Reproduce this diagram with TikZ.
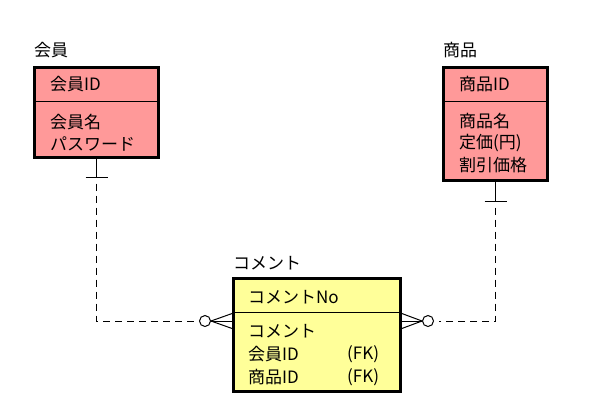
\documentclass[tikz,border=0pt]{standalone}
\usepackage{fontspec}
\setmainfont{Noto Sans CJK JP}
\usetikzlibrary{positioning, calc}

\definecolor{entpink}{RGB}{255,153,153}
\definecolor{entyellow}{RGB}{255,255,153}

\begin{document}
\begin{tikzpicture}[
    x=1pt, y=-1pt,
    entity/.style={draw, line width=3pt, outer sep=0pt, inner sep=0pt, anchor=north west},
    title/.style={anchor=west, inner sep=0pt, font=\fontsize{17}{20}\selectfont},
    attr/.style={anchor=west, inner sep=0pt, font=\fontsize{17}{20}\selectfont},
    divider/.style={line width=1pt},
    erdash/.style={dash pattern=on 7pt off 5pt, line width=1pt},
    erline/.style={line width=1pt},
    zero/.style={circle, draw, line width=1pt, fill=white, minimum size=11pt, inner sep=0pt},
]
    \useasboundingbox (0,0) rectangle (593,418);

    % entities
    \node[entity, fill=entpink,   minimum width=124pt, minimum height=90pt]  (member)  at (34.5,67.5)   {};
    \node[entity, fill=entpink,   minimum width=104pt, minimum height=113pt] (product) at (443.5,67.5)  {};
    \node[entity, fill=entyellow, minimum width=167pt, minimum height=113pt] (comment) at (233.5,278.5) {};

    \draw[divider] (member.west |- 0,101)  -- (member.east |- 0,101);
    \draw[divider] (product.west |- 0,101) -- (product.east |- 0,101);
    \draw[divider] (comment.west |- 0,312) -- (comment.east |- 0,312);

    \node[title] (memberT)  at (34,50)   {会員};
    \node[title] (productT) at (443,50)  {商品};
    \node[title] (commentT) at (233,263) {コメント};

    \node[attr] (m1) at (50,84)  {会員ID};
    \node[attr] (m2) at (50,122) {会員名};
    \node[attr] (m3) at (50,144) {パスワード};

    \node[attr] (p1) at (459,84)  {商品ID};
    \node[attr] (p2) at (459,121) {商品名};
    \node[attr] (p3) at (459,143) {定価(円)};
    \node[attr] (p4) at (459,165) {割引価格};

    \node[attr] (c1) at (248,297) {コメントNo};
    \node[attr] (c2) at (248,331) {コメント};
    \node[attr] (c3) at (248,354) {会員ID};
    \node[attr] (c4) at (248,377) {商品ID};
    \node[attr] (c5) at (347,354) {(FK)};
    \node[attr] (c6) at (347,377) {(FK)};

    % relationships
    \node[zero] (lzero) at (205,321) {};
    \node[zero] (rzero) at (428,321) {};

    \draw[erline] (member.south) -- ++(0,20) coordinate (mtick);
    \draw[erline] ($(mtick)+(-11,0)$) -- ($(mtick)+(11,0)$);
    \draw[erdash] ([yshift=-26pt]member.south) |- ([xshift=-5pt]lzero.west);

    \draw[erline] (product.south) -- ++(0,21) coordinate (ptick);
    \draw[erline] ($(ptick)+(-11,0)$) -- ($(ptick)+(11,0)$);
    \draw[erdash] ([yshift=-27pt]product.south) |- ([xshift=5pt]rzero.east);

    \foreach \dy in {-8,0,8} {
        \draw[erline] (lzero.east) -- ($(comment.west |- lzero)+(0,\dy)$);
        \draw[erline] (rzero.west) -- ($(comment.east |- rzero)+(0,\dy)$);
    }
\end{tikzpicture}
\end{document}
